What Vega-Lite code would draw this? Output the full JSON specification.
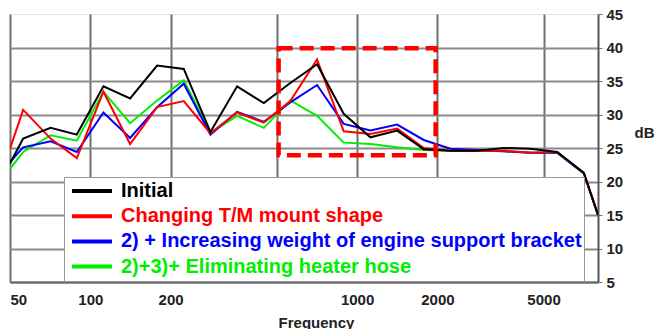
{
  "$schema": "https://vega.github.io/schema/vega-lite/v6.json",
  "width": 588,
  "height": 268,
  "autosize": {"type": "none"},
  "padding": {"left": 10, "top": 14, "right": 58, "bottom": 47},
  "background": "white",
  "config": {"view": {"stroke": "#e4e4e4", "strokeWidth": 1}, "font": "Liberation Sans"},
  "datasets": {
    "curves": [
      {"f": 50, "Initial": 22.7, "Changing T/M mount shape": 24.9, "2) + Increasing weight of engine support bracket": 22.9, "2)+3)+ Eliminating heater hose": 21.9},
      {"f": 56, "Initial": 26.4, "Changing T/M mount shape": 30.7, "2) + Increasing weight of engine support bracket": 25.1, "2)+3)+ Eliminating heater hose": 24.4},
      {"f": 71, "Initial": 28.0, "Changing T/M mount shape": 26.4, "2) + Increasing weight of engine support bracket": 26.0, "2)+3)+ Eliminating heater hose": 26.9},
      {"f": 89, "Initial": 27.0, "Changing T/M mount shape": 23.5, "2) + Increasing weight of engine support bracket": 24.4, "2)+3)+ Eliminating heater hose": 26.1},
      {"f": 112, "Initial": 34.2, "Changing T/M mount shape": 33.4, "2) + Increasing weight of engine support bracket": 30.3, "2)+3)+ Eliminating heater hose": 33.4},
      {"f": 141, "Initial": 32.4, "Changing T/M mount shape": 25.6, "2) + Increasing weight of engine support bracket": 26.5, "2)+3)+ Eliminating heater hose": 28.7},
      {"f": 178, "Initial": 37.3, "Changing T/M mount shape": 31.1, "2) + Increasing weight of engine support bracket": 31.1, "2)+3)+ Eliminating heater hose": 32.1},
      {"f": 224, "Initial": 36.8, "Changing T/M mount shape": 32.0, "2) + Increasing weight of engine support bracket": 34.6, "2)+3)+ Eliminating heater hose": 35.1},
      {"f": 282, "Initial": 27.4, "Changing T/M mount shape": 27.2, "2) + Increasing weight of engine support bracket": 27.0, "2)+3)+ Eliminating heater hose": 27.3},
      {"f": 355, "Initial": 34.2, "Changing T/M mount shape": 30.3, "2) + Increasing weight of engine support bracket": 30.4, "2)+3)+ Eliminating heater hose": 29.8},
      {"f": 447, "Initial": 31.7, "Changing T/M mount shape": 28.8, "2) + Increasing weight of engine support bracket": 28.9, "2)+3)+ Eliminating heater hose": 28.0},
      {"f": 562, "Initial": 34.7, "Changing T/M mount shape": 32.0, "2) + Increasing weight of engine support bracket": 31.8, "2)+3)+ Eliminating heater hose": 32.1},
      {"f": 708, "Initial": 37.5, "Changing T/M mount shape": 38.2, "2) + Increasing weight of engine support bracket": 34.4, "2)+3)+ Eliminating heater hose": 29.8},
      {"f": 891, "Initial": 30.1, "Changing T/M mount shape": 27.5, "2) + Increasing weight of engine support bracket": 28.6, "2)+3)+ Eliminating heater hose": 25.8},
      {"f": 1122, "Initial": 26.6, "Changing T/M mount shape": 27.1, "2) + Increasing weight of engine support bracket": 27.6, "2)+3)+ Eliminating heater hose": 25.6},
      {"f": 1413, "Initial": 27.6, "Changing T/M mount shape": 27.9, "2) + Increasing weight of engine support bracket": 28.5, "2)+3)+ Eliminating heater hose": 25.1},
      {"f": 1778, "Initial": 24.8, "Changing T/M mount shape": 25.0, "2) + Increasing weight of engine support bracket": 26.2, "2)+3)+ Eliminating heater hose": 24.7},
      {"f": 2239, "Initial": 24.6, "Changing T/M mount shape": 24.6, "2) + Increasing weight of engine support bracket": 24.9, "2)+3)+ Eliminating heater hose": 24.6},
      {"f": 2818, "Initial": 24.6, "Changing T/M mount shape": 24.6, "2) + Increasing weight of engine support bracket": 24.7, "2)+3)+ Eliminating heater hose": 24.6},
      {"f": 3548, "Initial": 25.0, "Changing T/M mount shape": 24.6, "2) + Increasing weight of engine support bracket": 24.5, "2)+3)+ Eliminating heater hose": 24.5},
      {"f": 4467, "Initial": 24.9, "Changing T/M mount shape": 24.3, "2) + Increasing weight of engine support bracket": 24.3, "2)+3)+ Eliminating heater hose": 24.3},
      {"f": 5623, "Initial": 24.4, "Changing T/M mount shape": 24.4, "2) + Increasing weight of engine support bracket": 24.3, "2)+3)+ Eliminating heater hose": 24.3},
      {"f": 7079, "Initial": 21.3, "Changing T/M mount shape": 21.3, "2) + Increasing weight of engine support bracket": 21.2, "2)+3)+ Eliminating heater hose": 21.2},
      {"f": 8000, "Initial": 15.0, "Changing T/M mount shape": 15.0, "2) + Increasing weight of engine support bracket": 15.0, "2)+3)+ Eliminating heater hose": 15.0}
    ],
    "box": [{"f": 508, "f2": 1970, "dB": 23.9, "dB2": 39.9}]
  },
  "encoding": {
    "x": {
      "field": "f", "type": "quantitative",
      "scale": {"type": "log", "domain": [50, 8000], "nice": false},
      "axis": {
        "title": "Frequency",
        "values": [50, 100, 200, 500, 1000, 2000, 5000],
        "format": "d",
        "labelExpr": "datum.value == 500 ? '' : datum.label",
        "grid": true, "gridColor": "#707070", "gridWidth": 2,
        "domainColor": "#666666", "domainWidth": 2,
        "ticks": false, "labelPadding": 10,
        "labelFontSize": 15, "labelFontWeight": "bold", "labelColor": "#222222",
        "labelFlush": true, "labelOverlap": false,
        "titleFontSize": 15, "titleFontWeight": "bold", "titleColor": "#222222",
        "titleX": 306, "titleY": 45, "titleBaseline": "alphabetic"
      }
    },
    "y": {
      "field": "dB", "type": "quantitative",
      "scale": {"domain": [5, 45], "nice": false, "zero": false},
      "axis": {
        "orient": "right", "title": "dB",
        "values": [5, 10, 15, 20, 25, 30, 35, 40, 45],
        "grid": true, "gridColor": "#8a8a8a", "gridWidth": 2,
        "gridOpacity": {"condition": {"test": "datum.value == 45", "value": 0}, "value": 1},
        "domainColor": "#555555", "domainWidth": 2,
        "tickSize": 4, "tickColor": "#777777", "labelPadding": 4,
        "labelOverlap": false,
        "labelFontSize": 15, "labelFontWeight": "bold", "labelColor": "#222222",
        "titleAngle": 0, "titleFontSize": 15, "titleFontWeight": "bold", "titleColor": "#222222",
        "titleAlign": "left", "titleBaseline": "middle", "titleX": 36, "titleY": 118
      }
    }
  },
  "layer": [
    {
      "data": {"name": "curves"},
      "transform": [
        {"fold": ["2)+3)+ Eliminating heater hose", "2) + Increasing weight of engine support bracket", "Changing T/M mount shape", "Initial"], "as": ["series", "dB"]}
      ],
      "mark": {"type": "line", "strokeWidth": 2, "clip": true},
      "encoding": {
        "color": {
          "field": "series", "type": "nominal",
          "scale": {
            "domain": ["Initial", "Changing T/M mount shape", "2) + Increasing weight of engine support bracket", "2)+3)+ Eliminating heater hose"],
            "range": ["#000000", "#ff0000", "#0000ff", "#00ee00"]
          },
          "legend": {
            "orient": "none", "legendX": 54, "legendY": 163, "title": null, "direction": "vertical",
            "fillColor": "white", "strokeColor": "#999999", "padding": 2,
            "symbolType": "stroke", "symbolSize": 1600, "symbolStrokeWidth": 4,
            "clipHeight": 24, "rowPadding": 1.2, "symbolOffset": 4, "labelOffset": 7,
            "labelFont": "Liberation Sans", "labelFontSize": 20, "labelFontWeight": "bold", "labelLimit": 600,
            "encode": {"labels": {"update": {"fill": {"scale": "color", "field": "value"}}}}
          }
        }
      }
    },
    {
      "data": {"name": "box"},
      "mark": {"type": "rect", "fill": "transparent", "stroke": "#ff0000", "strokeWidth": 4.5, "strokeDash": [14, 7]},
      "encoding": {
        "x2": {"field": "f2"},
        "y2": {"field": "dB2"}
      }
    }
  ]
}
